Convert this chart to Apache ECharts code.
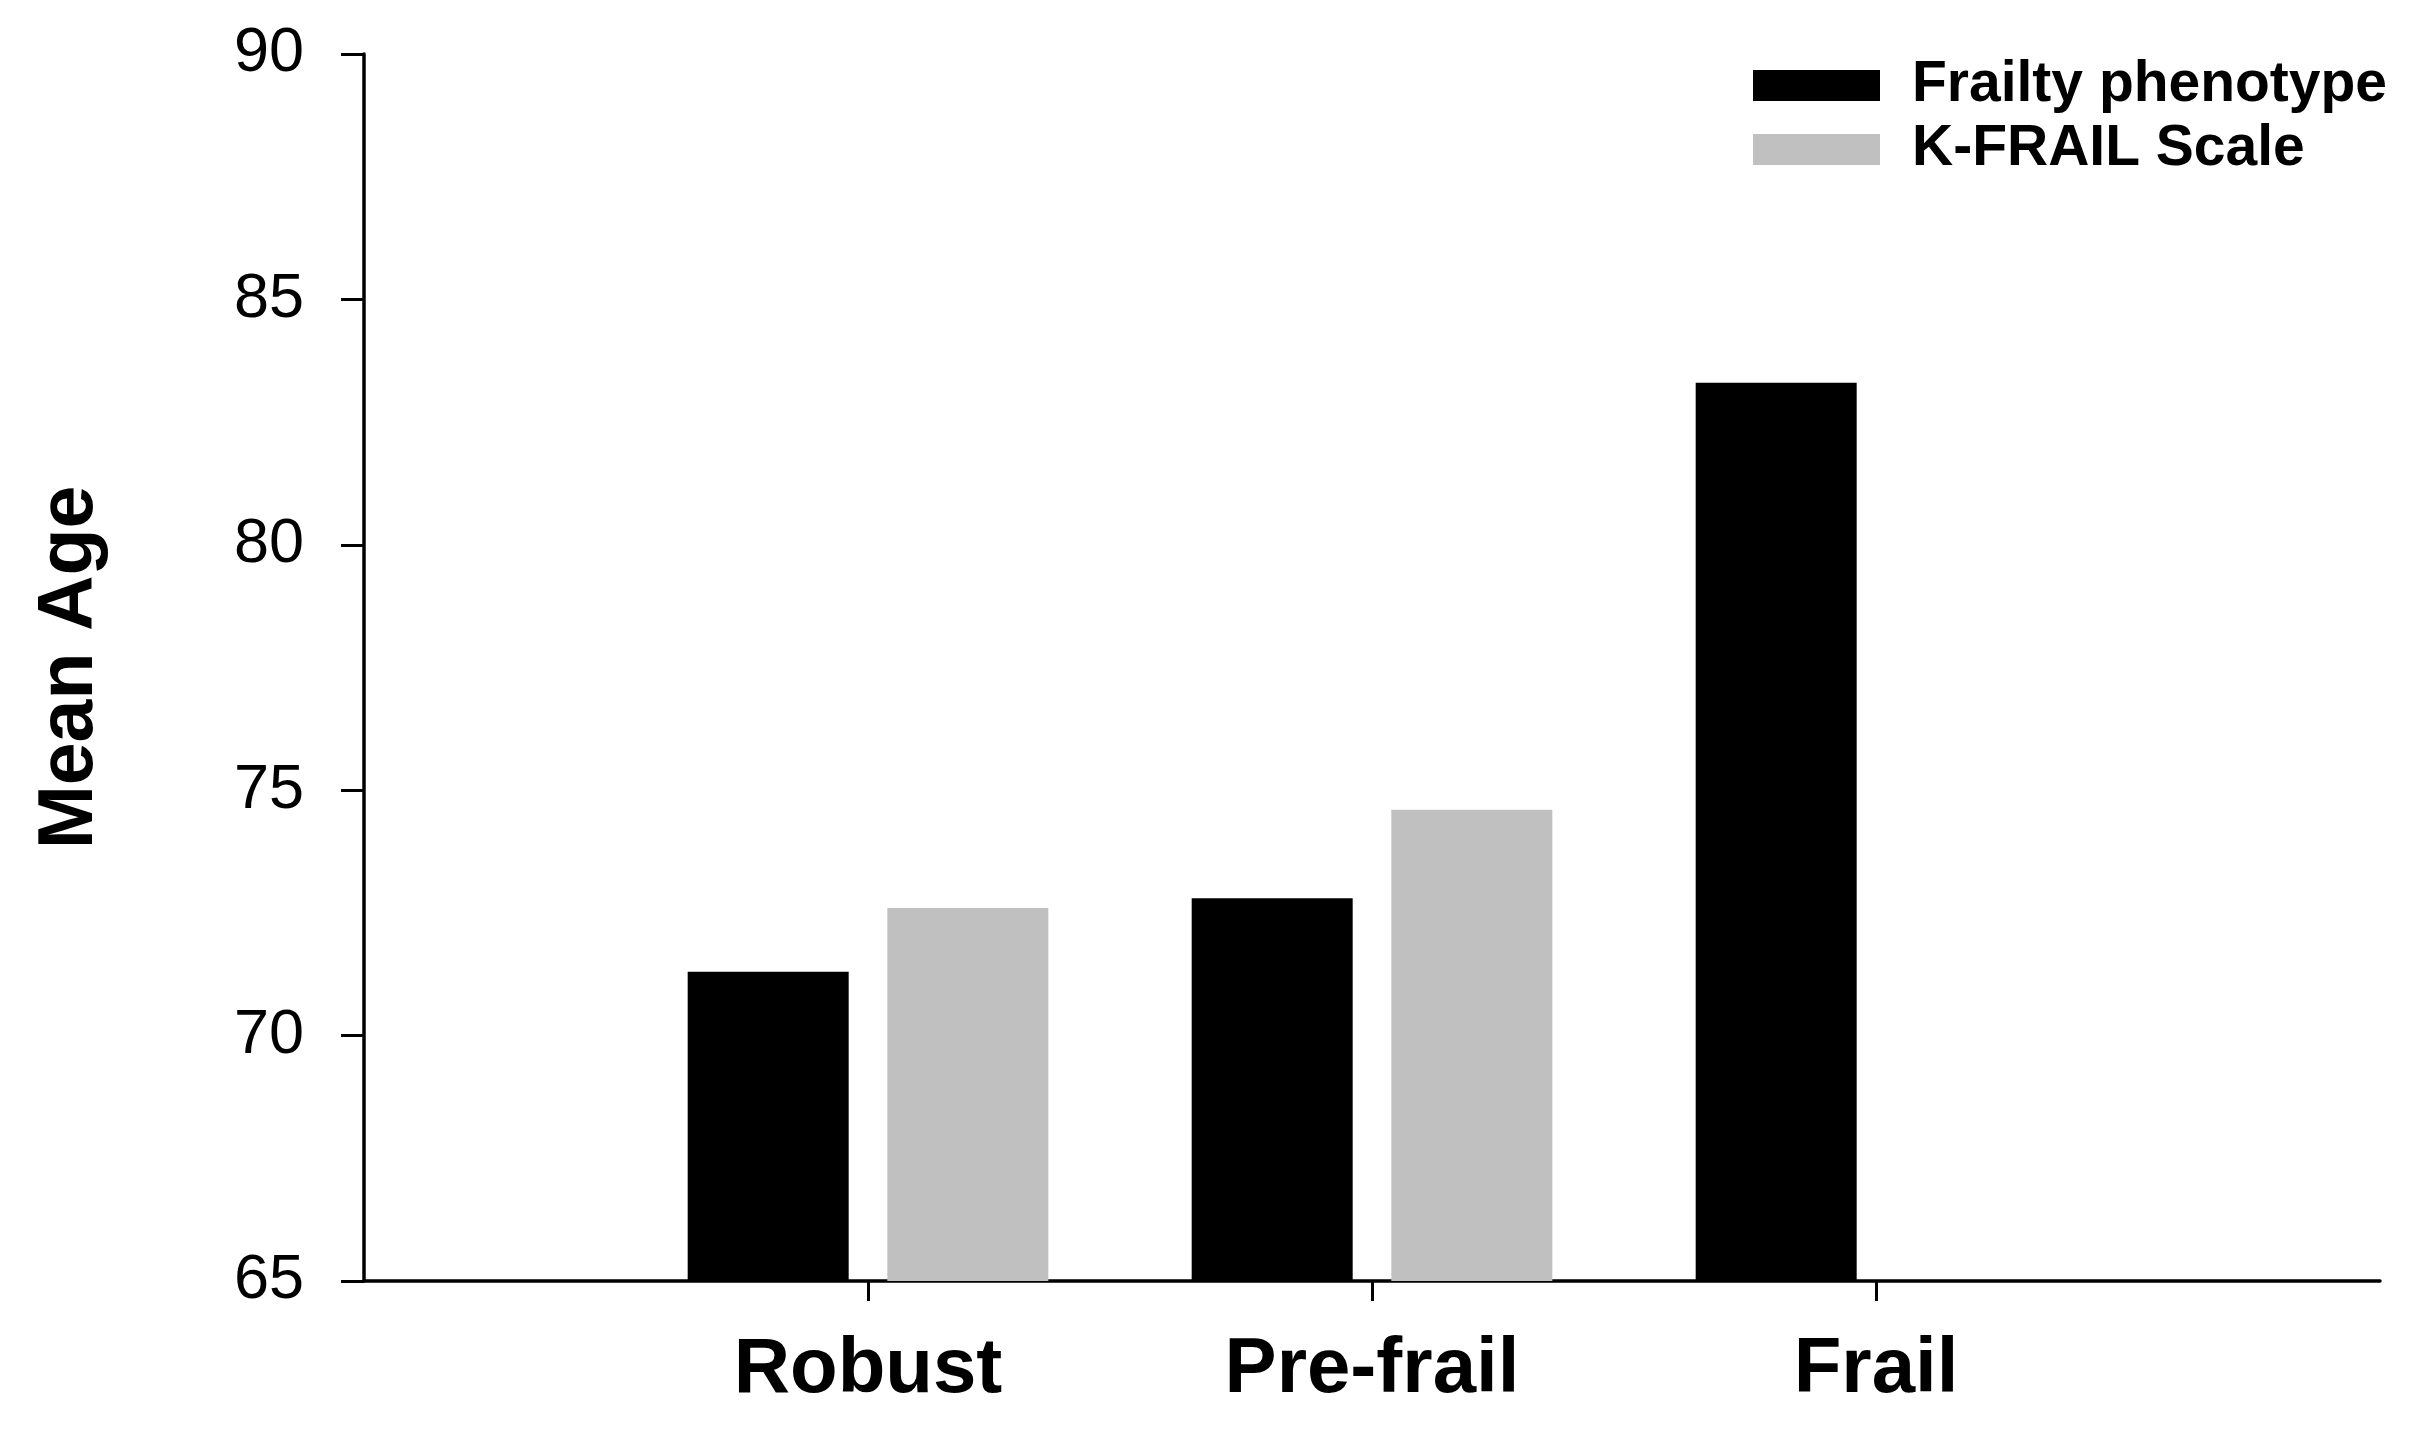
<!DOCTYPE html>
<html>
<head>
<meta charset="utf-8">
<script src="https://cdn.jsdelivr.net/npm/echarts@6/dist/echarts.min.js"></script>
<style>
html,body{margin:0;padding:0;background:#fff;}
#chart{width:2427px;height:1440px;}
</style>
</head>
<body>
<div id="chart"></div>
<script>
const categories = ['Robust', 'Pre-frail', 'Frail'];
const frailtyPhenotype = [71.3, 72.8, 83.3];
const kFrailScale = [72.6, 74.6, null];
const seriesNames = ['Frailty phenotype', 'K-FRAIL Scale'];
const yTicks = { min: 65, max: 90, interval: 5 };

// pad with empty slots at both ends so categories sit at 1..3 of a 0..4 axis
const axisData = [''].concat(categories, ['']);
const pad = arr => [null].concat(arr, [null]);

const FONT = '"Liberation Sans", Arial, sans-serif';
const chart = echarts.init(document.getElementById('chart'), null, { renderer: 'canvas' });
chart.setOption({
  animation: false,
  backgroundColor: '#ffffff',
  grid: { left: 364, right: 47, top: 54, bottom: 159, containLabel: false },
  legend: {
    orient: 'vertical',
    left: 1748,
    top: 52,
    itemWidth: 127,
    itemHeight: 31,
    itemGap: 7,
    icon: 'rect',
    textStyle: { fontFamily: FONT, fontWeight: 'bold', fontSize: 57, lineHeight: 57, color: '#000', padding: [0, 0, 0, 27] },
    data: seriesNames
  },
  xAxis: {
    type: 'category',
    data: axisData,
    boundaryGap: false,
    axisLine: { onZero: false, lineStyle: { color: '#000', width: 3.5 } },
    axisTick: {
      interval: function (i) { return i >= 1 && i <= categories.length; },
      length: 20,
      lineStyle: { color: '#000', width: 3 }
    },
    axisLabel: { interval: 0, margin: 50, fontFamily: FONT, fontWeight: 'bold', fontSize: 78, color: '#000' },
    splitLine: { show: false }
  },
  yAxis: {
    type: 'value',
    min: yTicks.min,
    max: yTicks.max,
    interval: yTicks.interval,
    name: 'Mean Age',
    nameLocation: 'middle',
    nameGap: 255,
    nameRotate: 90,
    nameTextStyle: { fontFamily: FONT, fontWeight: 'bold', fontSize: 77, color: '#000' },
    axisLine: { show: true, lineStyle: { color: '#000', width: 3.5 } },
    axisTick: { show: true, length: 23, lineStyle: { color: '#000', width: 3 } },
    axisLabel: { margin: 60, fontFamily: FONT, fontSize: 63, color: '#000' },
    splitLine: { show: false }
  },
  series: [
    {
      name: seriesNames[0],
      type: 'bar',
      data: pad(frailtyPhenotype),
      barWidth: 161,
      barGap: '24%',
      itemStyle: { color: '#000000' }
    },
    {
      name: seriesNames[1],
      type: 'bar',
      data: pad(kFrailScale),
      barWidth: 161,
      barGap: '24%',
      itemStyle: { color: '#c0c0c0' }
    }
  ]
});
</script>
</body>
</html>
